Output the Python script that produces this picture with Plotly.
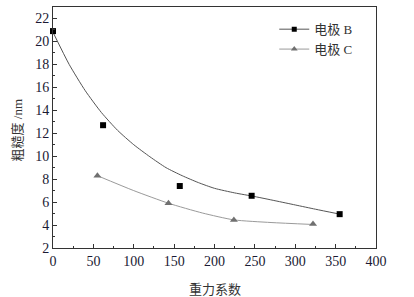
import plotly.graph_objects as go

# Measured data
gravity_B = [0, 62, 157, 246, 355]
rough_B = [20.9, 12.7, 7.4, 6.55, 4.95]
gravity_C = [55, 143, 224, 322]
rough_C = [8.3, 5.9, 4.45, 4.1]

# Fitted curve for electrode B
fit_B_x = [0, 20, 40, 60, 80, 100, 120, 140, 160, 180, 200, 225, 250, 275, 300, 325, 353]
fit_B_y = [20.8, 18.0, 15.7, 13.8, 12.25, 11.0, 9.95, 9.0, 8.3, 7.7, 7.2, 6.8, 6.48, 6.12, 5.75, 5.38, 4.98]

# Smooth line through electrode C points
fit_C_x = [55, 100, 143, 185, 224, 270, 322]
fit_C_y = [8.3, 7.0, 5.9, 5.05, 4.45, 4.22, 4.05]

legend_names = ["电极 B", "电极 C"]
x_title = "重力系数"
y_title = "粗糙度 /nm"

serif = "Liberation Serif"
mixed = "Liberation Serif, Noto Sans CJK SC"
cjk = "Noto Sans CJK SC"

colB_line = "#555555"
colB_mark = "#000000"
colC_line = "#9a9a9a"
colC_mark = "#707070"

fig = go.Figure()
fig.add_trace(go.Scatter(x=fit_B_x, y=fit_B_y, mode="lines",
                         line=dict(color=colB_line, width=1, shape="spline", smoothing=0.6),
                         showlegend=False, hoverinfo="skip"))
fig.add_trace(go.Scatter(x=fit_C_x, y=fit_C_y, mode="lines",
                         line=dict(color=colC_line, width=1, shape="spline", smoothing=0.6),
                         showlegend=False, hoverinfo="skip"))
fig.add_trace(go.Scatter(x=gravity_B, y=rough_B, mode="markers",
                         marker=dict(symbol="square", size=6, color=colB_mark),
                         showlegend=False, cliponaxis=False))
fig.add_trace(go.Scatter(x=gravity_C, y=rough_C, mode="markers",
                         marker=dict(symbol="triangle-up", size=7, color=colC_mark),
                         showlegend=False, cliponaxis=False))
# legend entries
fig.add_trace(go.Scatter(x=[None], y=[None], mode="lines+markers", name=legend_names[0],
                         line=dict(color=colB_line, width=1),
                         marker=dict(symbol="square", size=5, color=colB_mark)))
fig.add_trace(go.Scatter(x=[None], y=[None], mode="lines+markers", name=legend_names[1],
                         line=dict(color=colC_line, width=1),
                         marker=dict(symbol="triangle-up", size=6, color=colC_mark)))

axis_common = dict(showgrid=False, zeroline=False, showline=True, linecolor="#333333",
                   linewidth=1, mirror=True, ticks="inside", ticklen=4, tickcolor="#333333",
                   automargin=False,
                   tickfont=dict(family=serif, size=14, color="#1a1a33"))

fig.update_xaxes(range=[0, 400], tick0=0, dtick=50,
                 minor=dict(ticks="inside", ticklen=2, dtick=25, tickcolor="#333333"),
                 **axis_common)
fig.update_yaxes(range=[2, 23], tick0=2, dtick=2,
                 minor=dict(ticks="inside", ticklen=2, dtick=1, tickcolor="#333333"),
                 **axis_common)

fig.add_annotation(text=x_title, xref="paper", yref="paper", x=0.5, y=-0.17,
                   xanchor="center", yanchor="middle", showarrow=False,
                   font=dict(family=cjk, size=13, color="#333333"))
fig.add_annotation(text=y_title, xref="paper", yref="paper", x=-0.11, y=0.49,
                   xanchor="center", yanchor="middle", showarrow=False, textangle=-90,
                   font=dict(family=mixed, size=13, color="#333333"))

fig.update_layout(
    width=414, height=297,
    margin=dict(l=53, r=38, t=7, b=49),
    paper_bgcolor="white", plot_bgcolor="white",
    legend=dict(x=0.685, y=0.97, xanchor="left", yanchor="top",
                bgcolor="rgba(0,0,0,0)", font=dict(family=mixed, size=13, color="#333333"),
                itemwidth=30, tracegroupgap=0),
)

fig.write_html("out.html", config={"displayModeBar": False},
               post_script="document.body.style.margin='0px';document.body.style.overflow='hidden';")
